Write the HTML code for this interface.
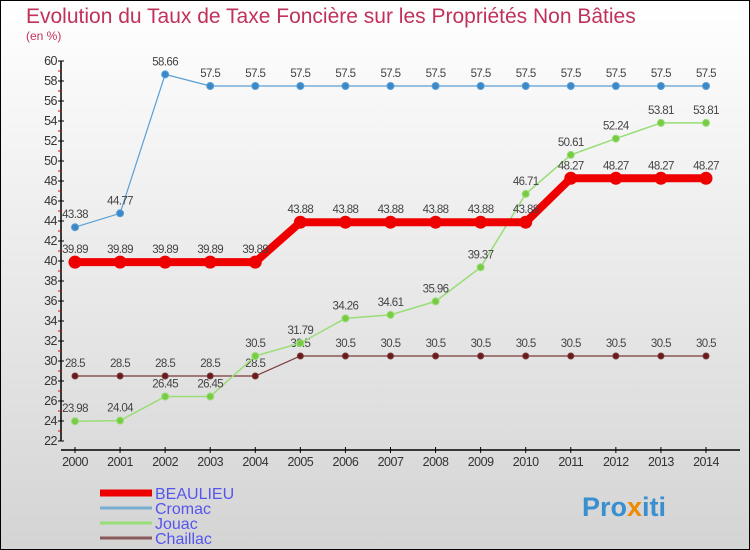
<!DOCTYPE html>
<html><head><meta charset="utf-8"><style>
body{margin:0;width:750px;height:550px;overflow:hidden}
svg{display:block;font-family:"Liberation Sans",sans-serif}
</style></head><body>
<svg id="c" width="750" height="550">
<defs><linearGradient id="bg" x1="0" y1="0" x2="0" y2="1"><stop offset="0" stop-color="#ffffff"/><stop offset="1" stop-color="#d4d4d4"/></linearGradient></defs>
<rect x="0.5" y="0.5" width="749" height="549" fill="url(#bg)" stroke="#000"/>
<text x="26" y="23" font-size="21" fill="#c0325a">Evolution du Taux de Taxe Foncière sur les Propriétés Non Bâties</text>
<text x="26" y="40" font-size="12" fill="#c0325a">(en %)</text>
<g id="axes"></g><g id="series"></g><g id="legend"></g>
<text x="582" y="516" font-size="27" font-weight="bold" fill="#3a8fd0">Pro<tspan fill="#f08a00">x</tspan>iti</text>
</svg>
<script>
const years=[2000,2001,2002,2003,2004,2005,2006,2007,2008,2009,2010,2011,2012,2013,2014];
const beaulieu=[39.89,39.89,39.89,39.89,39.89,43.88,43.88,43.88,43.88,43.88,43.88,48.27,48.27,48.27,48.27];
const cromac=[43.38,44.77,58.66,57.5,57.5,57.5,57.5,57.5,57.5,57.5,57.5,57.5,57.5,57.5,57.5];
const jouac=[23.98,24.04,26.45,26.45,30.5,31.79,34.26,34.61,35.96,39.37,46.71,50.61,52.24,53.81,53.81];
const chaillac=[28.5,28.5,28.5,28.5,28.5,30.5,30.5,30.5,30.5,30.5,30.5,30.5,30.5,30.5,30.5];
const yTicks=[22,24,26,28,30,32,34,36,38,40,42,44,46,48,50,52,54,56,58,60];
const NS="http://www.w3.org/2000/svg";
function X(i){return 75+i*(706-75)/14;}
function Y(v){return 441-(v-22)*10;}
function mk(p,t,a){const e=document.createElementNS(NS,t);for(const k in a)e.setAttribute(k,a[k]);p.appendChild(e);return e;}
const ax=document.getElementById('axes');
let e=mk(ax,'line',{x1:61,y1:Y(60),x2:61,y2:Y(22),stroke:'#000','stroke-width':1.5});

e=mk(ax,'line',{x1:61,y1:450,x2:740,y2:450,stroke:'#000','stroke-width':1.5});

yTicks.forEach(v=>{
 mk(ax,'line',{x1:58,x2:64,y1:Y(v),y2:Y(v),stroke:'#000'});
 if(v<60) mk(ax,'line',{x1:58,x2:61,y1:Y(v+1),y2:Y(v+1),stroke:'#e00'});
 const t=mk(ax,'text',{x:57,y:Y(v)+4,'font-size':12.5,'text-anchor':'end',fill:'#333','letter-spacing':'-0.5'});
 t.textContent=v;
});
years.forEach((y,i)=>{
 mk(ax,'line',{x1:X(i),x2:X(i),y1:447,y2:453,stroke:'#000'});
 const t=mk(ax,'text',{x:X(i),y:466,'font-size':12.5,'text-anchor':'middle',fill:'#333','letter-spacing':'-0.5'});
 t.textContent=y;
});
const sg=document.getElementById('series');
function series(name,vals,color,dot,w,r){
 const g=mk(sg,'g',{});
 mk(g,'polyline',{points:vals.map((v,i)=>X(i)+','+Y(v)).join(' '),fill:'none',stroke:color,'stroke-width':w});
 vals.forEach((v,i)=>{
  const c=mk(g,'circle',{cx:X(i),cy:Y(v),r:r,fill:dot,stroke:color,'stroke-width':1});
  
  const t=mk(g,'text',{x:X(i),y:Y(v)-9,'font-size':11.5,'text-anchor':'middle',fill:'#444','letter-spacing':'-0.6'});
  t.textContent=v;
 });
}
series('chaillac',chaillac,'#7a3a3a','#6a1a1a',1.2,3);
series('jouac',jouac,'#99dd77','#77cc44',1.5,3.5);
series('cromac',cromac,'#5a9fd4','#3a88c8',1.2,3.5);
series('beaulieu',beaulieu,'#ee0000','#ee0000',8,6);
const lg=document.getElementById('legend');
[['BEAULIEU','#ee0000',7,493],['Cromac','#7aaed0',3,508],['Jouac','#99dd77',3,523],['Chaillac','#8a5a5a',3,538]].forEach(([n,c,w,y])=>{
 const l=mk(lg,'line',{x1:100,x2:152,y1:y,y2:y,stroke:c,'stroke-width':w});
 
 const t=mk(lg,'text',{x:155,y:y+6,'font-size':16,fill:'#5555ee'});
 t.textContent=n;
});
</script>
</body></html>
